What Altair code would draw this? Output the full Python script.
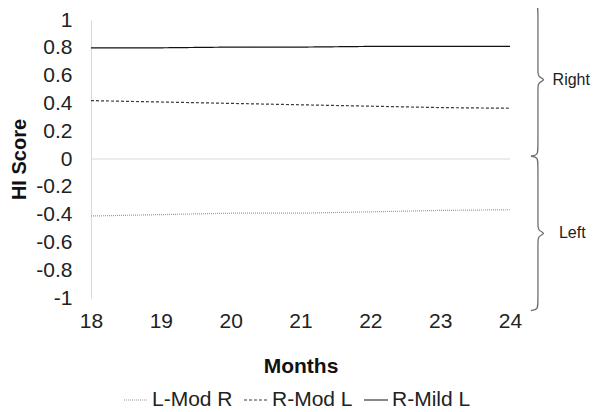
import altair as alt
import pandas as pd

months = [18, 19, 20, 21, 22, 23, 24]
l_mod_r = [-0.41, -0.40, -0.39, -0.39, -0.38, -0.37, -0.365]
r_mod_l = [0.42, 0.41, 0.40, 0.39, 0.38, 0.37, 0.365]
r_mild_l = [0.80, 0.80, 0.805, 0.805, 0.81, 0.81, 0.81]

series_names = ["L-Mod R", "R-Mod L", "R-Mild L"]
series_colors = ["#9a9a9a", "#3a3a3a", "#111111"]
series_dash = [[1, 1], [3, 2], [1, 0]]
series_width = [1.2, 1.2, 2.2]

y_ticks = [-1, -0.8, -0.6, -0.4, -0.2, 0, 0.2, 0.4, 0.6, 0.8, 1]

# brace annotations: label, lower, upper (in HI score units)
brace_labels = ["Right", "Left"]
brace_low = [0.02, -1.09]
brace_high = [1.12, 0.02]

FONT = "Liberation Sans"

rows = []
for name, vals in zip(series_names, [l_mod_r, r_mod_l, r_mild_l]):
    for m, v in zip(months, vals):
        rows.append({"Month": m, "Score": v, "Series": name})
df = pd.DataFrame(rows)

# brace path built from brace extents
bx_hook, bx_line, bx_tip = 24.30, 24.40, 24.52
brows = []
for lab, lo, hi in zip(brace_labels, brace_low, brace_high):
    mid = (lo + hi) / 2
    pts = [
        (bx_hook, hi), (bx_line, hi - 0.01), (bx_line, hi - 0.05),
        (bx_line, mid + 0.06), (bx_line, mid + 0.02), (bx_tip, mid),
        (bx_line, mid - 0.02), (bx_line, mid - 0.06),
        (bx_line, lo + 0.05), (bx_line, lo + 0.01), (bx_hook, lo),
    ]
    for i, (x, y) in enumerate(pts):
        brows.append({"bx": x, "by": y, "ord": i, "brace": lab})
bdf = pd.DataFrame(brows)
tdf = pd.DataFrame({
    "tx": [24.61, 24.70],
    "ty": [(l + h) / 2 for l, h in zip(brace_low, brace_high)],
    "label": brace_labels,
})

xscale = alt.Scale(domain=[18, 24], nice=False, zero=False)
yscale = alt.Scale(domain=[-1, 1], nice=False)

xaxis = alt.Axis(values=months, format="d", domain=False, ticks=False, grid=False,
                 labelFlush=False, labelOverlap=False, labelPadding=12, titlePadding=24,
                 titleFontSize=21)
yaxis = alt.Axis(values=y_ticks, labelExpr="toString(datum.value)", domain=True,
                 domainColor="#d9d9d9", ticks=False, grid=False,
                 labelFlush=False, labelOverlap=False, labelPadding=19, titlePadding=6,
                 titleFontSize=20)

lines = alt.Chart(df).mark_line(clip=False).encode(
    x=alt.X("Month:Q", scale=xscale, title="Months", axis=xaxis),
    y=alt.Y("Score:Q", scale=yscale, title="HI Score", axis=yaxis),
    color=alt.Color("Series:N", scale=alt.Scale(domain=series_names, range=series_colors),
                    sort=series_names, title=None),
    strokeDash=alt.StrokeDash("Series:N", scale=alt.Scale(domain=series_names, range=series_dash),
                              sort=series_names, title=None),
    strokeWidth=alt.StrokeWidth("Series:N", scale=alt.Scale(domain=series_names, range=series_width),
                                sort=series_names, title=None),
)

zero = alt.Chart(pd.DataFrame({"z": [0]})).mark_rule(color="#d9d9d9", strokeWidth=1).encode(
    y=alt.Y("z:Q", scale=yscale, title="HI Score", axis=yaxis)
)

braces = alt.Chart(bdf).mark_line(clip=False, interpolate="basis", color="#707070", strokeWidth=1.3).encode(
    x=alt.X("bx:Q", scale=xscale, title="Months", axis=xaxis),
    y=alt.Y("by:Q", scale=yscale, title="HI Score", axis=yaxis),
    order="ord:Q",
    detail="brace:N",
)

btext = alt.Chart(tdf).mark_text(align="left", baseline="middle", font=FONT, fontSize=16, color="#222222").encode(
    x=alt.X("tx:Q", scale=xscale, title="Months", axis=xaxis),
    y=alt.Y("ty:Q", scale=yscale, title="HI Score", axis=yaxis),
    text="label:N",
)

chart = alt.layer(zero, lines, braces, btext).properties(
    width=419, height=278,
    autosize=alt.AutoSizeParams(type="none"),
    padding={"left": 83, "top": 12, "right": 82, "bottom": 114},
).configure_view(stroke=None).configure_axis(
    labelFont=FONT, titleFont=FONT, labelFontSize=21,
    labelColor="#222222", titleColor="#111111", titleFontWeight="bold",
    labelOverlap=False,
).configure_legend(
    orient="none", direction="horizontal", legendX=32, legendY=367,
    labelFont=FONT, labelFontSize=21, labelColor="#222222",
    symbolType="stroke", symbolSize=576, labelOffset=3, columnPadding=8,
    symbolStrokeWidth=1.2,
)

chart.save("out.html", embed_options={"renderer": "svg", "actions": False})
